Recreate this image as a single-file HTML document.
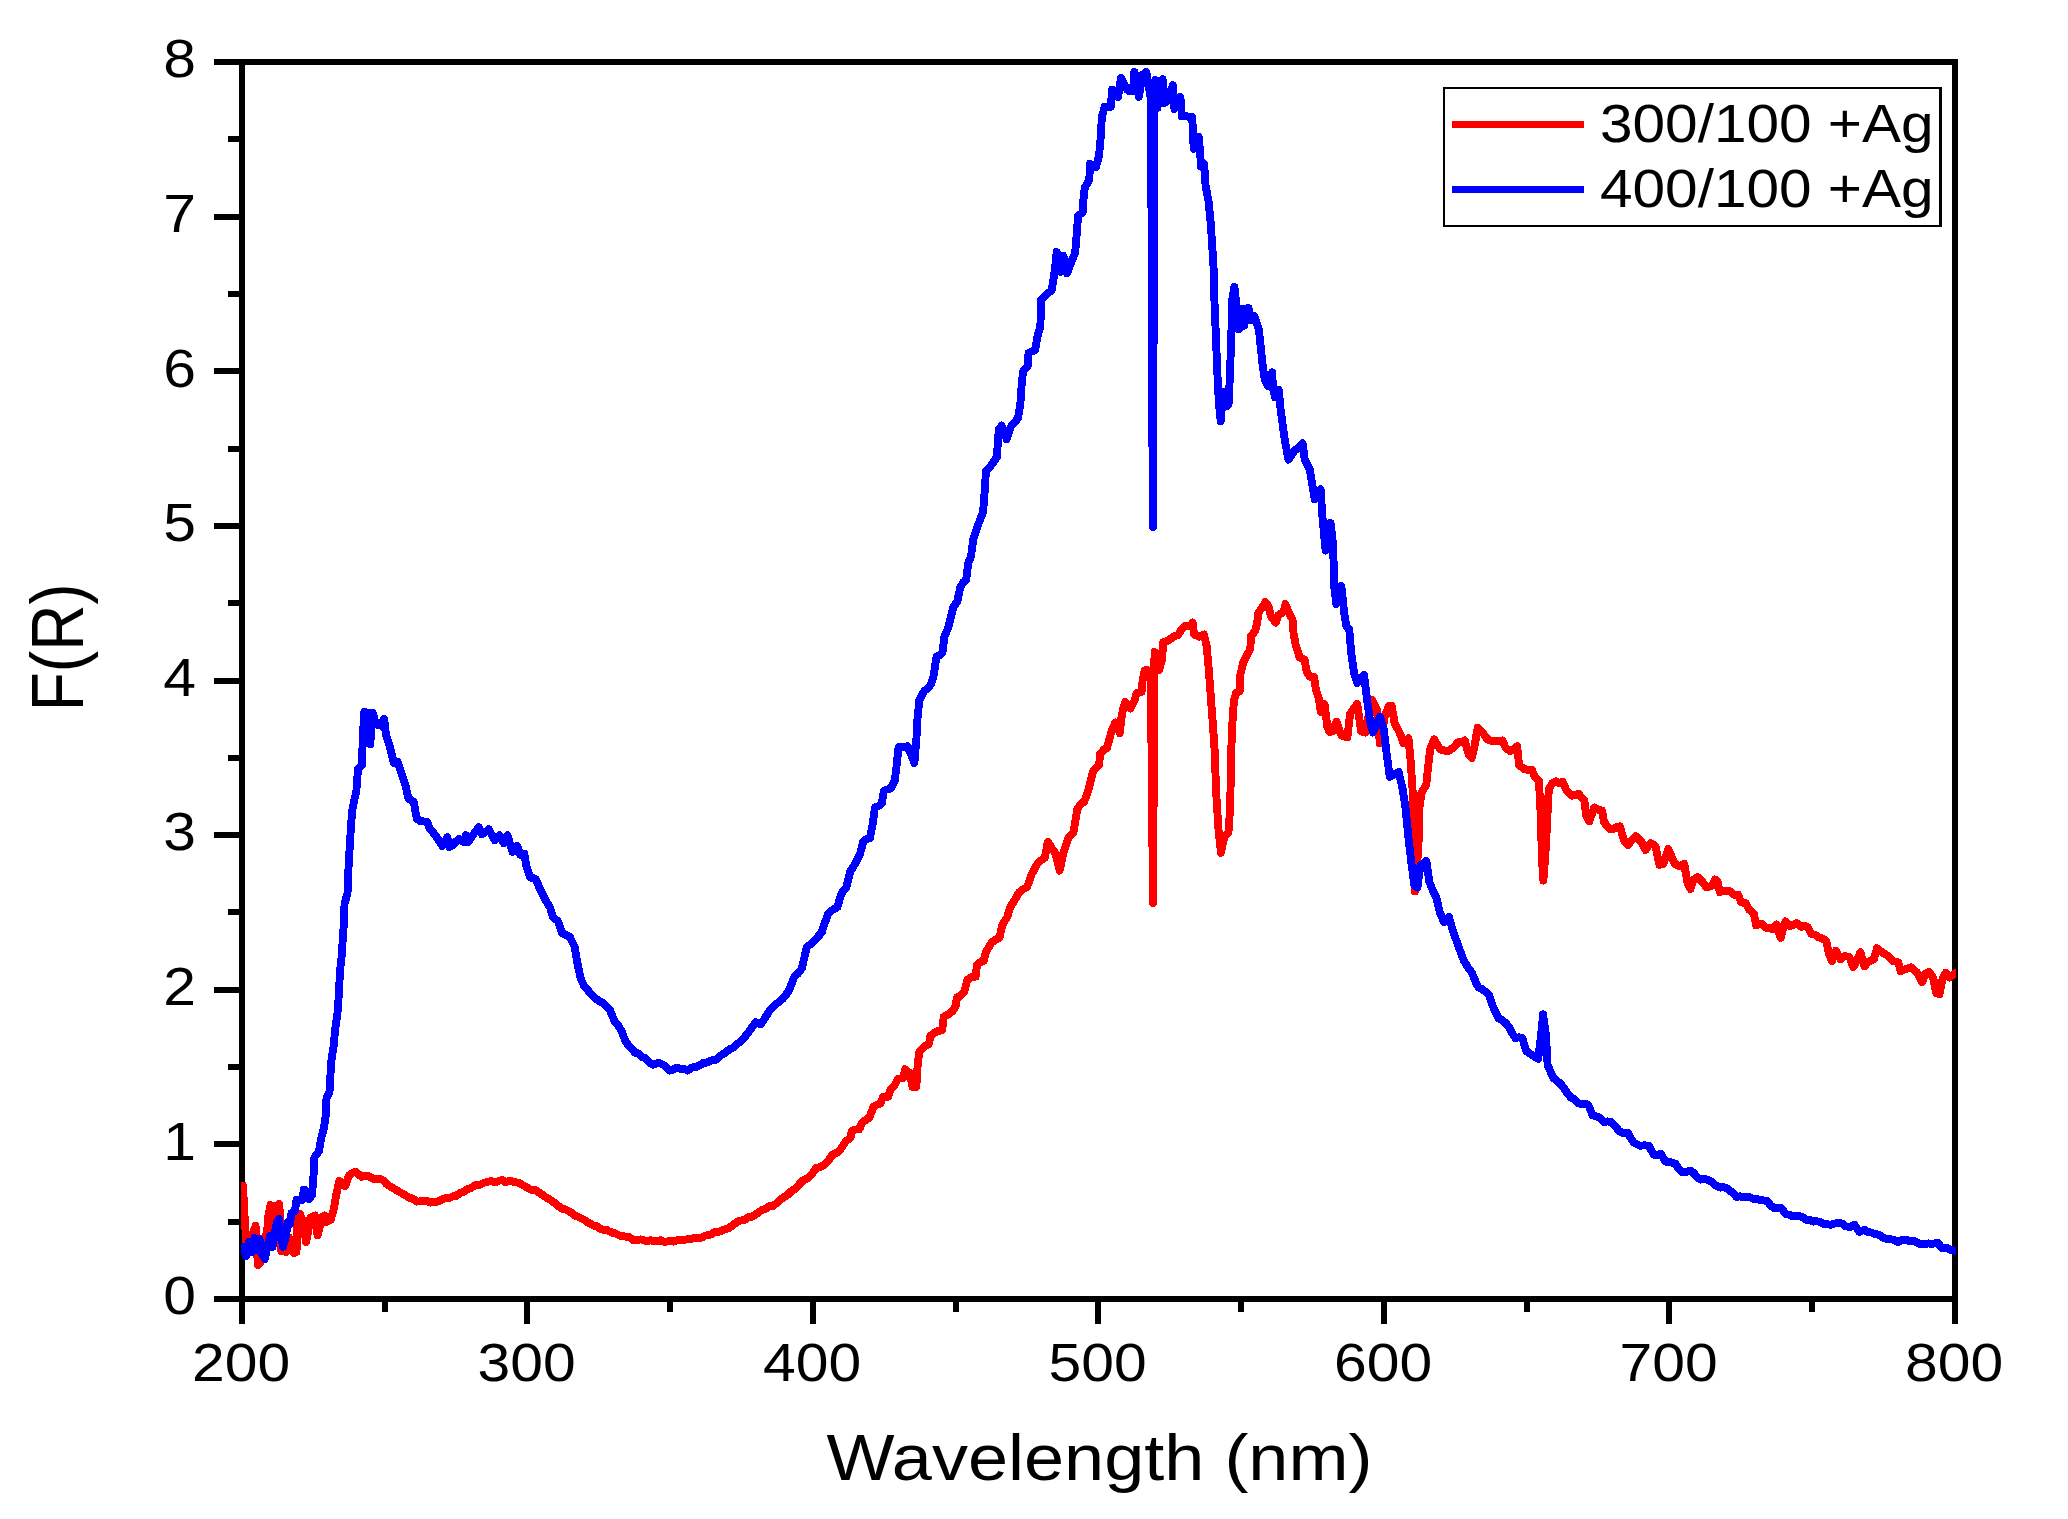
<!DOCTYPE html>
<html lang="en"><head><meta charset="utf-8"><title>F(R) vs Wavelength</title>
<style>
html,body{margin:0;padding:0;background:#fff;}
body{width:2068px;height:1519px;overflow:hidden;}
svg{display:block;}
text{font-family:"Liberation Sans",Arial,Helvetica,sans-serif;fill:#000;}
</style></head><body>
<svg width="2068" height="1519" viewBox="0 0 2068 1519">
<rect x="0" y="0" width="2068" height="1519" fill="#ffffff"/>
<defs><clipPath id="plotclip"><rect x="241" y="62" width="1715" height="1240"/></clipPath></defs>

<g id="axes" fill="#000" shape-rendering="crispEdges">
<rect x="239" y="59" width="6" height="1243"/>
<rect x="1952" y="59" width="6" height="1243"/>
<rect x="239" y="59" width="1719" height="6"/>
<rect x="239" y="1296" width="1719" height="6"/>
<rect x="214" y="1296" width="26" height="6"/>
<rect x="228" y="1219" width="12" height="6"/>
<rect x="214" y="1141" width="26" height="6"/>
<rect x="228" y="1064" width="12" height="6"/>
<rect x="214" y="987" width="26" height="6"/>
<rect x="228" y="909" width="12" height="6"/>
<rect x="214" y="832" width="26" height="6"/>
<rect x="228" y="755" width="12" height="6"/>
<rect x="214" y="678" width="26" height="6"/>
<rect x="228" y="600" width="12" height="6"/>
<rect x="214" y="523" width="26" height="6"/>
<rect x="228" y="446" width="12" height="6"/>
<rect x="214" y="368" width="26" height="6"/>
<rect x="228" y="291" width="12" height="6"/>
<rect x="214" y="214" width="26" height="6"/>
<rect x="228" y="136" width="12" height="6"/>
<rect x="214" y="59" width="26" height="6"/>
<rect x="239" y="1300" width="6" height="24"/>
<rect x="382" y="1300" width="6" height="12"/>
<rect x="524" y="1300" width="6" height="24"/>
<rect x="667" y="1300" width="6" height="12"/>
<rect x="810" y="1300" width="6" height="24"/>
<rect x="953" y="1300" width="6" height="12"/>
<rect x="1095" y="1300" width="6" height="24"/>
<rect x="1238" y="1300" width="6" height="12"/>
<rect x="1381" y="1300" width="6" height="24"/>
<rect x="1524" y="1300" width="6" height="12"/>
<rect x="1666" y="1300" width="6" height="24"/>
<rect x="1809" y="1300" width="6" height="12"/>
<rect x="1952" y="1300" width="6" height="24"/>
</g>
<g id="curves" clip-path="url(#plotclip)" shape-rendering="crispEdges">
<polyline points="240.0,1186.0 243.0,1185.6 244.5,1215.0 246.5,1245.0 249.0,1240.0 252.0,1236.0 255.6,1225.8 256.5,1245.0 258.0,1265.0 260.5,1262.0 264.0,1240.0 267.0,1232.0 268.5,1215.0 270.6,1205.0 272.8,1206.0 274.3,1238.0 276.0,1206.0 279.3,1204.0 280.3,1225.0 281.3,1251.0 286.1,1252.0 289.0,1237.4 291.5,1246.0 293.9,1252.9 296.5,1252.0 297.2,1232.0 297.7,1216.1 300.0,1214.0 303.5,1222.9 306.0,1242.2 308.0,1232.0 310.3,1218.0 315.1,1215.6 317.6,1235.5 320.0,1226.0 322.0,1217.0 324.3,1215.6 326.5,1222.0 330.6,1220.0 334.0,1208.4 336.4,1193.9 339.3,1180.8 345.1,1186.1 349.0,1175.5 352.4,1173.1 355.8,1171.6 361.6,1176.9 365.0,1175.6 368.4,1176.0 373.2,1178.9 376.6,1179.3 380.0,1178.9 383.4,1180.5 386.7,1184.2 390.6,1186.7 394.5,1189.0 400.3,1192.4 404.6,1194.7 409.0,1197.7 412.9,1198.6 416.7,1201.6 420.1,1201.4 423.5,1201.1 426.8,1200.7 430.0,1202.6 435.8,1202.0 439.2,1200.8 442.7,1199.0 446.2,1198.0 449.6,1198.0 453.1,1196.3 456.6,1195.8 460.0,1192.7 463.5,1192.1 467.4,1189.1 471.4,1187.8 475.3,1185.2 479.3,1185.1 483.2,1183.1 487.2,1181.8 491.1,1181.2 495.1,1182.3 499.0,1180.8 502.2,1180.0 505.3,1182.2 508.5,1181.1 511.6,1181.1 514.8,1182.2 518.8,1182.9 522.7,1185.1 526.7,1187.2 530.6,1189.6 534.6,1189.7 538.5,1192.1 542.5,1194.9 546.4,1197.7 550.4,1200.0 554.3,1202.7 558.3,1206.0 562.2,1208.9 565.4,1209.4 568.5,1211.0 571.7,1212.9 574.8,1215.7 578.0,1216.8 581.2,1218.4 584.3,1219.9 587.5,1222.3 590.6,1223.8 593.8,1225.7 597.0,1226.4 600.1,1228.8 603.3,1229.7 606.4,1229.8 609.6,1231.6 612.8,1232.8 615.9,1233.6 619.1,1235.4 622.2,1236.1 625.4,1236.5 629.4,1237.2 633.3,1240.1 637.3,1240.1 640.6,1239.4 643.9,1240.4 647.1,1241.4 650.4,1240.2 653.7,1241.2 657.0,1241.5 660.3,1240.2 663.6,1241.6 666.9,1241.6 670.2,1241.0 673.5,1241.6 676.8,1240.5 680.0,1239.7 683.1,1240.2 686.3,1239.5 689.4,1239.1 692.6,1238.5 695.8,1237.7 698.9,1237.9 702.1,1237.5 705.2,1235.6 708.4,1235.0 711.6,1234.3 714.7,1231.8 717.9,1232.2 721.0,1231.0 724.2,1229.6 728.1,1228.5 732.1,1225.8 736.0,1222.7 739.2,1221.0 742.4,1220.1 745.5,1219.6 748.7,1216.8 751.9,1216.8 755.4,1214.7 758.8,1212.1 762.2,1210.0 765.7,1208.9 769.0,1206.2 772.3,1206.3 775.6,1204.0 779.5,1200.1 783.5,1197.5 787.4,1195.1 791.4,1191.2 795.3,1188.7 799.3,1184.2 802.9,1180.6 806.5,1178.8 810.1,1176.3 813.2,1172.2 816.3,1167.8 820.8,1166.9 825.2,1164.1 828.9,1160.0 832.6,1154.4 836.3,1153.1 840.0,1150.0 845.9,1141.1 850.4,1138.1 851.9,1130.7 855.6,1129.5 859.3,1129.3 862.2,1122.6 865.9,1119.8 869.6,1117.4 873.3,1107.0 877.0,1104.8 880.7,1103.3 883.0,1096.7 888.1,1096.7 890.4,1089.3 894.8,1084.8 897.8,1078.9 903.0,1078.1 905.2,1069.3 909.6,1073.0 912.6,1087.0 916.3,1087.0 917.8,1062.6 919.3,1052.2 924.4,1046.3 928.9,1044.1 930.4,1035.9 936.3,1031.5 942.2,1030.0 943.7,1016.7 949.6,1013.7 952.6,1010.9 955.6,1006.3 957.0,997.4 960.7,995.5 964.4,991.5 967.4,979.6 971.5,977.3 975.6,976.7 977.0,964.8 980.4,962.2 983.7,961.1 985.6,952.6 991.5,942.7 995.5,939.6 999.4,937.8 1002.3,924.9 1007.3,917.0 1010.2,907.2 1015.2,899.3 1019.1,892.3 1023.0,889.2 1027.0,887.4 1032.0,873.6 1037.9,862.7 1041.3,860.2 1044.8,857.8 1047.8,842.0 1051.8,848.1 1055.7,853.8 1059.6,870.6 1063.6,851.9 1068.5,838.0 1073.5,832.1 1077.4,808.4 1080.8,804.4 1084.3,801.5 1088.3,790.6 1093.2,770.9 1099.1,764.9 1100.1,754.1 1103.5,749.9 1107.0,748.1 1110.5,735.0 1112.2,729.1 1115.4,722.5 1119.8,733.4 1121.4,718.2 1123.0,709.5 1125.2,701.9 1130.6,708.4 1134.4,700.8 1136.6,693.2 1141.5,692.1 1142.6,680.2 1144.8,670.4 1148.6,670.4 1150.8,675.0 1153.0,903.0 1154.5,651.9 1157.8,655.2 1158.9,670.4 1162.1,659.5 1163.2,642.1 1168.7,640.5 1173.0,636.7 1177.9,635.1 1181.7,629.1 1185.0,625.9 1189.9,626.4 1192.6,622.6 1194.2,634.5 1199.1,636.7 1204.0,634.5 1206.7,646.5 1208.3,663.9 1210.0,685.6 1211.6,707.3 1213.2,729.1 1214.8,753.0 1216.0,790.0 1218.5,830.0 1221.0,853.0 1223.5,840.0 1225.0,836.0 1228.5,832.0 1230.0,810.0 1231.0,770.0 1231.3,750.0 1232.2,725.8 1233.9,700.8 1236.0,693.2 1239.8,691.0 1240.4,674.7 1243.1,662.8 1246.9,655.2 1250.2,649.3 1251.2,635.6 1255.0,631.3 1257.2,622.6 1258.3,612.8 1261.6,608.5 1265.4,602.0 1268.6,606.3 1270.8,616.1 1275.7,622.6 1278.4,615.0 1283.8,611.7 1285.5,604.1 1288.7,612.8 1292.5,619.3 1293.6,633.5 1295.8,645.4 1299.6,657.4 1304.5,659.5 1306.6,671.5 1309.9,676.9 1314.2,676.9 1315.9,690.0 1318.6,697.6 1320.8,711.7 1324.6,704.1 1327.3,726.9 1329.5,732.0 1332.5,731.5 1336.4,721.6 1341.4,735.4 1347.3,737.4 1350.2,713.7 1353.7,708.6 1357.2,703.8 1361.1,731.5 1365.1,732.5 1368.5,715.9 1372.0,699.9 1376.9,709.8 1379.9,743.3 1384.8,716.5 1388.8,705.8 1391.7,705.7 1394.7,723.6 1399.6,732.5 1403.6,743.3 1408.5,738.4 1410.5,759.1 1412.5,788.8 1414.4,828.3 1414.8,891.5 1418.4,848.0 1419.4,808.5 1421.4,792.7 1426.3,784.8 1428.3,765.1 1430.2,749.3 1434.2,739.4 1440.1,749.3 1444.0,750.4 1448.0,751.2 1453.9,747.3 1457.9,742.3 1461.3,742.4 1464.8,740.4 1468.8,755.2 1471.7,758.1 1474.7,745.3 1477.7,727.5 1482.6,732.5 1487.5,739.4 1491.5,740.9 1495.4,741.4 1498.8,740.9 1502.3,740.4 1505.3,747.3 1510.2,751.2 1513.7,749.0 1517.2,746.3 1519.1,765.1 1524.1,769.0 1528.0,769.9 1532.0,770.0 1534.9,776.9 1538.9,780.9 1540.9,818.4 1541.9,857.9 1543.4,880.6 1545.8,848.0 1547.8,808.5 1548.8,788.8 1552.7,782.8 1556.0,781.4 1559.3,783.2 1562.6,781.9 1566.5,790.7 1569.5,793.9 1572.5,795.7 1578.4,793.7 1584.3,800.6 1586.3,816.4 1589.3,821.4 1594.2,807.5 1598.2,809.9 1602.1,810.5 1604.1,822.3 1610.0,829.3 1613.3,829.0 1616.6,827.0 1619.9,826.3 1623.8,840.1 1627.8,845.1 1631.8,840.4 1635.7,836.2 1641.6,842.1 1645.6,850.0 1650.5,843.1 1655.4,846.0 1659.4,864.8 1663.3,863.8 1668.3,849.0 1672.2,857.9 1674.7,863.7 1679.5,866.1 1684.2,863.7 1687.4,882.7 1690.5,889.0 1693.7,879.5 1697.7,877.1 1702.4,881.9 1706.3,887.4 1711.9,885.8 1715.0,879.5 1717.4,881.1 1719.8,892.1 1724.5,890.6 1730.1,891.4 1734.8,895.3 1738.0,894.5 1741.1,902.4 1745.9,903.2 1749.0,909.5 1753.8,913.5 1756.1,925.3 1761.7,923.8 1765.6,927.7 1769.2,927.5 1772.7,929.3 1776.7,924.5 1780.6,938.0 1783.0,928.5 1785.4,921.4 1790.1,926.1 1793.2,924.9 1796.4,923.0 1801.2,926.9 1804.3,925.8 1807.5,926.9 1811.4,934.0 1815.0,934.6 1818.5,937.2 1822.5,938.5 1826.4,941.1 1828.8,953.8 1832.0,960.9 1835.9,950.6 1840.7,959.3 1844.6,956.1 1849.4,956.9 1853.3,967.2 1856.5,961.7 1860.4,952.2 1864.4,966.4 1868.3,961.7 1873.9,959.3 1877.0,948.2 1881.8,952.2 1887.3,955.4 1892.8,960.9 1898.4,962.5 1900.7,971.2 1906.2,968.8 1911.0,967.2 1916.5,972.0 1919.7,977.5 1922.1,982.2 1925.2,973.5 1929.2,972.0 1933.1,977.5 1936.3,993.3 1939.4,994.1 1942.6,979.1 1945.8,972.7 1949.7,977.5 1954.5,973.5 1958.0,972.0" fill="none" stroke="#ff0000" stroke-width="7.9" stroke-linejoin="round" stroke-linecap="butt"/>
<polyline points="240.0,1254.0 243.5,1247.0 246.0,1256.0 249.0,1242.0 252.0,1252.0 254.5,1238.0 257.0,1250.0 259.5,1239.0 262.0,1254.0 264.8,1259.0 267.5,1246.0 270.0,1236.0 272.5,1247.0 275.0,1232.0 277.0,1222.0 279.0,1219.0 281.0,1233.0 283.0,1247.0 285.5,1238.0 288.0,1222.0 290.0,1224.0 291.5,1213.0 295.0,1211.0 296.5,1200.0 302.0,1200.0 304.0,1189.5 307.0,1192.0 309.5,1199.0 312.0,1195.0 313.0,1182.0 314.0,1169.0 314.4,1157.3 318.9,1151.4 320.9,1139.5 323.8,1128.6 325.8,1114.8 326.5,1098.2 329.5,1092.3 330.3,1078.5 331.0,1063.7 332.4,1053.8 333.9,1044.9 334.9,1031.1 336.4,1021.2 337.9,1009.4 339.1,989.6 340.1,969.9 341.6,956.7 343.6,927.0 344.6,903.3 347.5,893.5 348.5,867.8 349.9,844.0 351.1,824.3 352.5,808.5 356.4,790.7 358.0,769.0 362.0,765.0 362.7,739.4 364.3,711.7 366.3,743.3 368.3,712.7 370.2,744.3 372.6,712.7 376.2,724.6 380.1,725.6 384.1,718.6 386.0,735.4 390.0,747.3 394.0,763.1 397.9,762.1 401.9,774.9 405.8,786.8 408.4,798.6 413.7,801.6 416.7,818.4 419.6,820.8 423.6,821.4 427.5,822.3 429.5,828.3 435.4,835.2 438.9,840.7 442.3,846.0 447.3,837.2 449.3,847.0 452.6,845.4 455.8,841.7 459.1,839.1 464.1,842.1 466.0,835.2 468.0,842.1 471.4,837.2 474.9,832.2 478.9,827.3 481.9,834.2 485.4,832.0 488.8,829.3 494.7,840.1 499.6,835.2 503.6,843.1 507.5,835.2 512.5,852.0 517.4,846.0 520.4,854.9 524.3,853.9 526.3,865.8 530.2,877.6 533.2,877.8 536.2,879.6 540.1,889.5 545.1,899.4 550.0,907.3 553.0,917.2 557.9,921.1 561.9,933.0 565.8,935.0 569.8,936.9 574.7,946.8 577.7,964.6 580.6,978.4 584.0,985.7 589.9,992.6 593.2,995.9 596.5,999.2 599.8,1001.5 603.1,1003.2 606.3,1006.3 609.6,1009.4 614.6,1021.2 618.0,1025.2 621.5,1031.1 625.4,1041.0 628.7,1045.7 632.0,1049.3 635.3,1052.8 638.6,1053.4 641.9,1057.3 645.2,1057.8 649.2,1062.4 653.1,1064.7 659.0,1062.7 664.9,1065.7 669.9,1070.6 673.3,1069.5 676.8,1067.7 680.4,1068.9 684.1,1068.8 687.7,1070.6 692.1,1067.5 696.5,1066.7 699.8,1065.4 703.1,1063.0 706.4,1062.7 709.7,1061.0 713.0,1060.1 716.3,1059.8 719.6,1056.0 722.9,1054.4 726.2,1051.9 729.7,1049.3 733.1,1047.8 736.5,1044.5 740.0,1042.0 744.0,1037.9 747.9,1033.1 751.8,1027.6 755.8,1022.2 760.7,1024.2 765.2,1017.7 769.6,1010.4 772.9,1007.3 776.2,1003.9 779.5,1001.5 782.8,998.7 786.1,994.8 789.4,989.6 794.3,976.8 798.1,973.4 801.9,968.4 806.8,946.7 810.8,944.2 814.7,940.7 818.2,936.3 821.6,932.8 825.0,922.3 828.5,913.1 833.0,909.6 837.4,907.2 841.4,893.3 846.3,887.4 850.2,871.6 855.2,863.7 860.1,853.8 863.1,842.0 866.5,839.0 870.0,838.0 873.0,822.2 874.9,807.4 878.4,806.1 881.9,803.5 883.8,790.6 887.2,789.4 890.7,788.6 894.7,780.7 896.7,764.9 898.6,747.2 903.0,747.5 907.5,746.2 911.0,754.3 914.4,763.0 916.4,739.3 917.4,719.5 919.4,699.8 924.3,690.9 927.8,688.5 931.2,684.0 933.5,676.4 936.5,656.7 939.5,655.5 942.5,652.7 944.4,636.9 948.4,627.0 953.3,607.3 957.3,601.4 960.2,587.5 963.2,582.4 966.2,579.6 968.1,563.8 971.1,555.9 973.1,540.1 977.0,528.3 980.0,519.7 983.0,512.5 984.9,488.8 985.9,471.0 989.3,468.0 992.8,463.1 996.8,457.2 998.8,429.5 1001.7,425.6 1006.7,439.4 1010.6,427.0 1013.0,424.1 1018.1,418.1 1020.4,403.3 1021.9,381.1 1023.3,370.7 1027.8,366.3 1028.5,353.0 1031.8,351.4 1035.2,350.0 1037.4,336.7 1040.4,326.3 1041.1,299.6 1047.0,293.7 1051.5,290.7 1053.7,277.4 1055.2,267.4 1056.7,251.9 1061.1,271.9 1063.3,255.6 1067.0,273.3 1071.5,261.5 1075.2,252.6 1076.7,234.8 1078.1,215.6 1082.6,212.6 1083.3,200.7 1084.8,187.4 1089.3,180.0 1090.0,163.7 1095.9,167.4 1098.9,156.3 1100.4,141.5 1101.9,116.3 1104.8,106.7 1110.7,106.7 1112.2,89.6 1118.1,97.0 1121.1,77.8 1127.0,89.6 1130.0,91.5 1133.0,91.1 1134.4,71.9 1138.9,97.0 1142.6,74.8 1146.3,71.9 1149.3,89.6 1151.0,100.0 1152.8,527.0 1154.6,100.0 1155.5,80.0 1157.5,108.0 1159.5,82.0 1161.0,102.0 1162.6,79.3 1164.5,103.0 1167.0,101.5 1170.0,92.0 1173.0,85.2 1174.4,108.9 1177.4,102.7 1180.4,97.0 1181.9,116.3 1185.3,115.5 1188.8,117.1 1192.2,117.0 1193.7,148.9 1198.9,137.0 1201.1,166.7 1204.1,163.7 1205.6,185.9 1208.5,200.7 1210.7,223.0 1212.2,245.2 1213.7,270.0 1214.4,299.6 1215.9,336.7 1217.4,373.7 1218.9,403.3 1220.7,421.1 1223.3,391.5 1226.3,406.3 1228.5,405.0 1230.0,373.7 1231.5,329.3 1232.2,299.6 1234.4,287.0 1236.7,307.0 1238.9,329.3 1241.9,308.5 1244.0,326.0 1248.5,307.8 1251.0,320.0 1254.4,315.9 1258.9,329.3 1260.4,344.1 1262.6,364.8 1264.8,379.6 1268.0,386.0 1272.2,372.2 1273.0,388.5 1275.2,397.4 1278.9,390.0 1280.4,407.8 1282.6,424.1 1284.8,440.4 1288.5,459.6 1294.4,450.7 1298.5,447.7 1302.6,443.3 1304.8,459.8 1309.8,469.6 1312.7,487.4 1314.7,499.3 1320.6,489.4 1322.6,519.0 1325.6,550.6 1330.5,523.0 1332.5,538.8 1333.9,568.4 1334.4,588.1 1336.4,604.0 1341.4,586.2 1344.3,613.8 1346.3,625.7 1349.3,629.6 1351.2,653.3 1354.2,673.1 1357.2,683.0 1360.7,678.5 1364.1,675.1 1366.0,690.9 1368.0,706.7 1371.0,726.4 1373.0,732.5 1376.5,723.6 1379.9,716.7 1383.8,729.5 1386.8,755.2 1389.8,776.9 1394.2,774.0 1398.6,772.0 1402.6,788.8 1405.6,808.5 1408.5,838.1 1411.5,863.8 1414.4,885.6 1417.4,887.5 1420.4,865.8 1426.3,860.9 1429.3,881.6 1432.8,890.6 1436.2,897.4 1440.1,913.2 1444.1,922.1 1449.0,917.2 1453.0,931.0 1457.9,944.8 1463.8,960.6 1467.8,967.2 1471.7,972.5 1476.7,984.3 1478.9,987.8 1482.2,989.2 1485.5,991.8 1488.8,994.7 1493.7,1008.5 1498.6,1018.4 1501.9,1020.1 1505.2,1022.6 1508.5,1026.3 1512.0,1032.9 1515.4,1038.1 1518.8,1037.3 1522.3,1038.1 1526.3,1051.0 1529.8,1053.6 1533.2,1055.9 1538.1,1058.9 1541.1,1035.2 1543.1,1014.4 1546.0,1035.2 1547.6,1064.8 1553.0,1077.7 1556.3,1080.5 1559.5,1082.8 1562.8,1086.5 1566.8,1092.5 1570.7,1097.4 1574.7,1099.5 1578.6,1103.3 1581.9,1104.3 1585.2,1103.7 1588.5,1105.3 1592.5,1115.2 1596.5,1116.5 1600.4,1118.1 1604.3,1122.1 1607.8,1121.4 1611.2,1122.1 1615.2,1126.0 1619.1,1131.0 1623.5,1133.1 1628.0,1133.0 1631.0,1138.6 1634.0,1142.8 1639.9,1145.8 1644.3,1145.3 1648.8,1145.8 1653.7,1154.7 1657.2,1155.1 1660.6,1153.7 1665.6,1161.6 1668.9,1161.6 1672.1,1162.7 1675.4,1163.6 1678.8,1168.9 1682.3,1172.5 1686.2,1171.8 1690.2,1170.5 1693.7,1173.0 1697.2,1177.4 1700.7,1179.6 1704.1,1178.7 1707.5,1179.8 1711.0,1181.4 1716.9,1186.3 1720.2,1187.6 1723.5,1187.2 1726.8,1188.3 1730.1,1190.8 1733.4,1193.2 1736.7,1197.2 1740.0,1196.2 1743.2,1197.4 1746.5,1197.2 1750.0,1197.3 1753.5,1198.9 1756.9,1199.1 1760.4,1200.1 1763.8,1200.5 1767.3,1201.1 1770.8,1205.7 1774.2,1208.0 1777.7,1208.0 1781.1,1208.0 1786.0,1214.0 1789.3,1214.8 1792.6,1216.1 1795.9,1215.9 1799.4,1216.1 1802.8,1217.1 1806.3,1219.9 1809.8,1219.9 1813.2,1221.6 1816.7,1221.2 1820.1,1222.1 1823.6,1223.8 1827.3,1224.3 1831.0,1224.7 1834.7,1223.5 1838.3,1222.8 1841.9,1223.5 1845.8,1226.3 1849.8,1227.0 1854.5,1224.6 1859.2,1231.8 1864.8,1229.8 1867.9,1232.1 1871.1,1232.5 1875.0,1233.9 1879.0,1234.9 1884.5,1238.5 1888.8,1238.9 1893.2,1239.7 1898.0,1242.0 1902.7,1239.7 1905.8,1239.5 1909.0,1241.2 1913.0,1240.7 1916.9,1242.4 1920.8,1244.3 1924.8,1244.0 1928.3,1243.4 1931.9,1244.0 1937.5,1242.8 1942.2,1248.0 1947.7,1248.3 1951.2,1250.0 1954.8,1250.7 1958.0,1251.0" fill="none" stroke="#0000ff" stroke-width="7.9" stroke-linejoin="round" stroke-linecap="butt"/>
</g>
<g id="ticklabels">
<text class="xt" transform="translate(241.2,1381) scale(1.086,1)" font-size="54.2" text-anchor="middle">200</text>
<text class="xt" transform="translate(526.7,1381) scale(1.086,1)" font-size="54.2" text-anchor="middle">300</text>
<text class="xt" transform="translate(812.2,1381) scale(1.086,1)" font-size="54.2" text-anchor="middle">400</text>
<text class="xt" transform="translate(1097.7,1381) scale(1.086,1)" font-size="54.2" text-anchor="middle">500</text>
<text class="xt" transform="translate(1383.2,1381) scale(1.086,1)" font-size="54.2" text-anchor="middle">600</text>
<text class="xt" transform="translate(1668.7,1381) scale(1.086,1)" font-size="54.2" text-anchor="middle">700</text>
<text class="xt" transform="translate(1954.2,1381) scale(1.086,1)" font-size="54.2" text-anchor="middle">800</text>
<text class="yt" transform="translate(196.0,1314.3) scale(1.086,1)" font-size="54.2" text-anchor="end">0</text>
<text class="yt" transform="translate(196.0,1159.7) scale(1.086,1)" font-size="54.2" text-anchor="end">1</text>
<text class="yt" transform="translate(196.0,1005.0) scale(1.086,1)" font-size="54.2" text-anchor="end">2</text>
<text class="yt" transform="translate(196.0,850.4) scale(1.086,1)" font-size="54.2" text-anchor="end">3</text>
<text class="yt" transform="translate(196.0,695.8) scale(1.086,1)" font-size="54.2" text-anchor="end">4</text>
<text class="yt" transform="translate(196.0,541.2) scale(1.086,1)" font-size="54.2" text-anchor="end">5</text>
<text class="yt" transform="translate(196.0,386.6) scale(1.086,1)" font-size="54.2" text-anchor="end">6</text>
<text class="yt" transform="translate(196.0,231.9) scale(1.086,1)" font-size="54.2" text-anchor="end">7</text>
<text class="yt" transform="translate(196.0,77.3) scale(1.086,1)" font-size="54.2" text-anchor="end">8</text>
</g>
<text id="xlabel" transform="translate(1099.5,1480) scale(1.126,1)" font-size="64" text-anchor="middle">Wavelength (nm)</text>
<text id="ylabel" transform="translate(83.0,647.3) rotate(-90) scale(1,1.16)" font-size="64" text-anchor="middle">F(R)</text>
<g id="legend">
<rect x="1443" y="87" width="499" height="140" fill="#000" shape-rendering="crispEdges"/>
<rect x="1445" y="89" width="494" height="136" fill="#fff" shape-rendering="crispEdges"/>
<rect x="1452" y="121" width="132" height="7" fill="#ff0000" shape-rendering="crispEdges"/>
<rect x="1452" y="186" width="132" height="7" fill="#0000ff" shape-rendering="crispEdges"/>
<text class="lg" transform="translate(1600.0,142.4) scale(1.1046,1)" font-size="53">300/100 +Ag</text>
<text class="lg" transform="translate(1600.0,207.0) scale(1.1046,1)" font-size="53">400/100 +Ag</text>
</g>
</svg></body></html>
